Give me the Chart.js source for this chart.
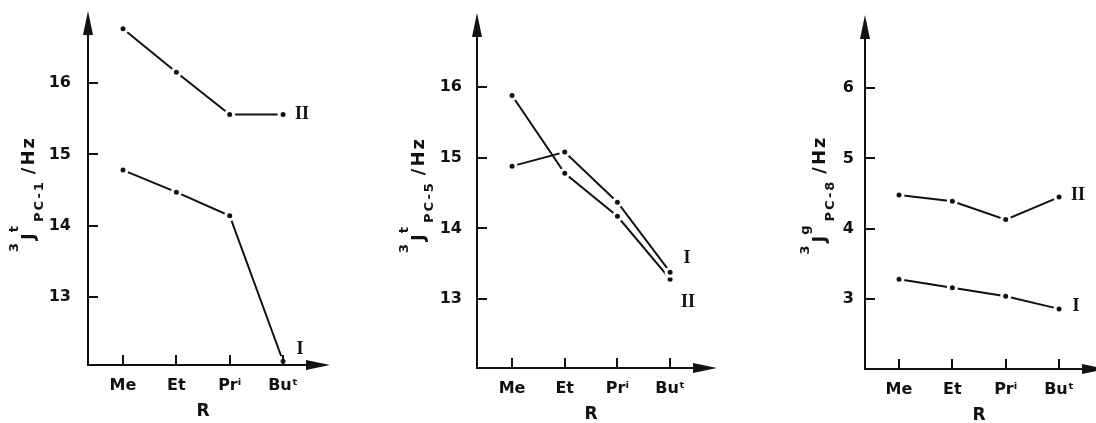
<!DOCTYPE html>
<html><head><meta charset="utf-8">
<script src="https://cdn.jsdelivr.net/npm/chart.js@4.4.0/dist/chart.umd.min.js"></script>
<style>
html,body{margin:0;padding:0;background:#fff;overflow:hidden;width:1096px;height:423px;position:relative;}
.panel{position:absolute;top:0;height:423px;overflow:hidden;}
canvas{display:block;}
</style></head><body>
<div class="panel" style="left:0;width:365px"><canvas id="c1" width="365" height="423"></canvas></div>
<div class="panel" style="left:365px;width:365px"><canvas id="c2" width="365" height="423"></canvas></div>
<div class="panel" style="left:730px;width:366px"><canvas id="c3" width="380" height="423"></canvas></div>
<script>
// ---- data ----
const categories = ['Me', 'Et', 'Prⁱ', 'Buᵗ'];
const seriesNames = ['I', 'II'];
const pc1_I  = [14.78, 14.47, 14.14, 12.10];
const pc1_II = [16.76, 16.15, 15.56, 15.56];
const pc5_I  = [14.88, 15.08, 14.37, 13.38];
const pc5_II = [15.88, 14.78, 14.17, 13.28];
const pc8_I  = [3.28, 3.16, 3.04, 2.86];
const pc8_II = [4.48, 4.39, 4.13, 4.45];
const ticksPC = [13, 14, 15, 16];
const ticksG  = [3, 4, 5, 6];
const xTitle = 'R';

// ---- layout / style ----
const INK = '#111';
const SANS = '"DejaVu Sans", sans-serif';
const SERIF = '"Liberation Serif", "DejaVu Serif", serif';

const panels = [
  { id:'c1', w:365, axisX:88, axisY:365, tip:11, end:330, yMin:12.047, yMax:17.01, xMin:-0.656, xMax:3.88,
    yTicks:ticksPC, I:pc1_I, II:pc1_II, tickPad:17,
    title:[['3','sup'],['J','main'],['t','sup'],['PC-1','sub'],['/Hz','main']], titleX:34, titleY:194,
    lab:{I:[17,-12], II:[19,0]} },
  { id:'c2', w:365, axisX:112, axisY:368, tip:13, end:352, yMin:12.024, yMax:17.047, xMin:-0.665, xMax:3.89,
    yTicks:ticksPC, I:pc5_I, II:pc5_II, tickPad:15,
    title:[['3','sup'],['J','main'],['t','sup'],['PC-5','sub'],['/Hz','main']], titleX:59, titleY:195,
    lab:{I:[17,-14], II:[18,23]} },
  { id:'c3', w:380, axisX:135, axisY:369, tip:15, end:376, yMin:2.005, yMax:7.04, xMin:-0.6375, xMax:3.88,
    yTicks:ticksG, I:pc8_I, II:pc8_II, tickPad:11,
    title:[['3','sup'],['J','main'],['g','sup'],['PC-8','sub'],['/Hz','main']], titleX:95, titleY:195,
    lab:{I:[17,-3], II:[19,-2]} }
];

const FONTS = { main: 'bold 18px ' + SANS, sup: 'bold 13px ' + SANS, sub: 'bold 13px ' + SANS };
const SPACING = { main: '2px', sup: '1px', sub: '2px' };
const SHIFT = { main: 0, sup: -16, sub: 9 };
const GAPS = [2, -1, 3, 6, 0];

function decoPlugin(p) {
  return {
    id: 'deco_' + p.id,
    afterDatasetsDraw(chart) {
      const ctx = chart.ctx, a = chart.chartArea;
      const xs = chart.scales.x, ys = chart.scales.y;
      ctx.save();
      ctx.strokeStyle = INK; ctx.fillStyle = INK; ctx.lineWidth = 2; ctx.lineCap = 'butt';
      // axes
      ctx.beginPath();
      ctx.moveTo(a.left, a.bottom + 1); ctx.lineTo(a.left, a.top + 10);
      ctx.moveTo(a.left - 1, a.bottom); ctx.lineTo(a.right - 10, a.bottom);
      ctx.stroke();
      // arrows
      ctx.beginPath();
      ctx.moveTo(a.left, a.top); ctx.lineTo(a.left - 5, a.top + 24); ctx.lineTo(a.left + 5, a.top + 24); ctx.closePath();
      ctx.fill();
      ctx.beginPath();
      ctx.moveTo(a.right, a.bottom); ctx.lineTo(a.right - 24, a.bottom - 5); ctx.lineTo(a.right - 24, a.bottom + 5); ctx.closePath();
      ctx.fill();
      // inward tick marks
      ctx.beginPath();
      ys.ticks.forEach(t => { const py = Math.round(ys.getPixelForValue(t.value)); ctx.moveTo(a.left, py); ctx.lineTo(a.left + 10, py); });
      xs.ticks.forEach(t => { const px = Math.round(xs.getPixelForValue(t.value)); ctx.moveTo(px, a.bottom); ctx.lineTo(px, a.bottom - 10); });
      ctx.stroke();
      // x title at middle of categories
      ctx.font = 'bold 17px ' + SANS; ctx.textAlign = 'center'; ctx.textBaseline = 'middle';
      ctx.fillText(xTitle, xs.getPixelForValue((categories.length - 1) / 2), a.bottom + 47);
      // series labels at last points
      ctx.font = 'bold 18px ' + SERIF;
      chart.data.datasets.forEach((ds, i) => {
        const meta = chart.getDatasetMeta(i);
        const last = meta.data[meta.data.length - 1];
        const off = p.lab[ds.label];
        ctx.fillText(ds.label, last.x + off[0], last.y + off[1]);
      });
      // rotated y title with super/subscripts
      ctx.translate(p.titleX, p.titleY);
      ctx.rotate(-Math.PI / 2);
      ctx.textAlign = 'left'; ctx.textBaseline = 'alphabetic';
      let total = 0;
      const widths = p.title.map(([t, k], i) => {
        ctx.font = FONTS[k]; ctx.letterSpacing = SPACING[k];
        const w = ctx.measureText(t).width + GAPS[i]; total += w; return w;
      });
      let u = -total / 2;
      p.title.forEach(([t, k], i) => {
        ctx.font = FONTS[k]; ctx.letterSpacing = SPACING[k];
        ctx.fillText(t, u, SHIFT[k]);
        u += widths[i];
      });
      ctx.restore();
    }
  };
}

panels.forEach(p => {
  const mk = (vals) => vals.map((v, i) => ({ x: i, y: v }));
  new Chart(document.getElementById(p.id), {
    type: 'line',
    data: {
      datasets: [
        { label: seriesNames[0], data: mk(p.I) },
        { label: seriesNames[1], data: mk(p.II) }
      ].map(d => Object.assign(d, {
        borderColor: INK, borderWidth: 2, tension: 0, fill: false,
        pointRadius: 4, pointBorderWidth: 3, pointBorderColor: '#fff', pointBackgroundColor: INK,
        clip: false
      }))
    },
    options: {
      responsive: false, animation: false,
      layout: { autoPadding: false, padding: { left: 0, top: p.tip, right: p.w - p.end, bottom: 0 } },
      plugins: { legend: { display: false }, tooltip: { enabled: false } },
      scales: {
        x: {
          type: 'linear', min: p.xMin, max: p.xMax,
          afterFit: s => { s.height = 423 - p.axisY; s.paddingLeft = 0; s.paddingRight = 0; },
          afterBuildTicks: s => { s.ticks = categories.map((c, i) => ({ value: i })); },
          grid: { display: false, drawTicks: false }, border: { display: false },
          ticks: { callback: (v) => categories[v], color: INK, padding: 11, maxRotation: 0, autoSkip: false,
                   font: { family: SANS, size: 16, weight: 'bold' } }
        },
        y: {
          type: 'linear', min: p.yMin, max: p.yMax,
          afterFit: s => { s.width = p.axisX; s.paddingTop = 0; s.paddingBottom = 0; },
          afterBuildTicks: s => { s.ticks = p.yTicks.map(v => ({ value: v })); },
          grid: { display: false, drawTicks: false }, border: { display: false },
          ticks: { color: INK, padding: p.tickPad, font: { family: SANS, size: 16, weight: 'bold' } }
        }
      }
    },
    plugins: [decoPlugin(p)]
  });
});
</script>
</body></html>
